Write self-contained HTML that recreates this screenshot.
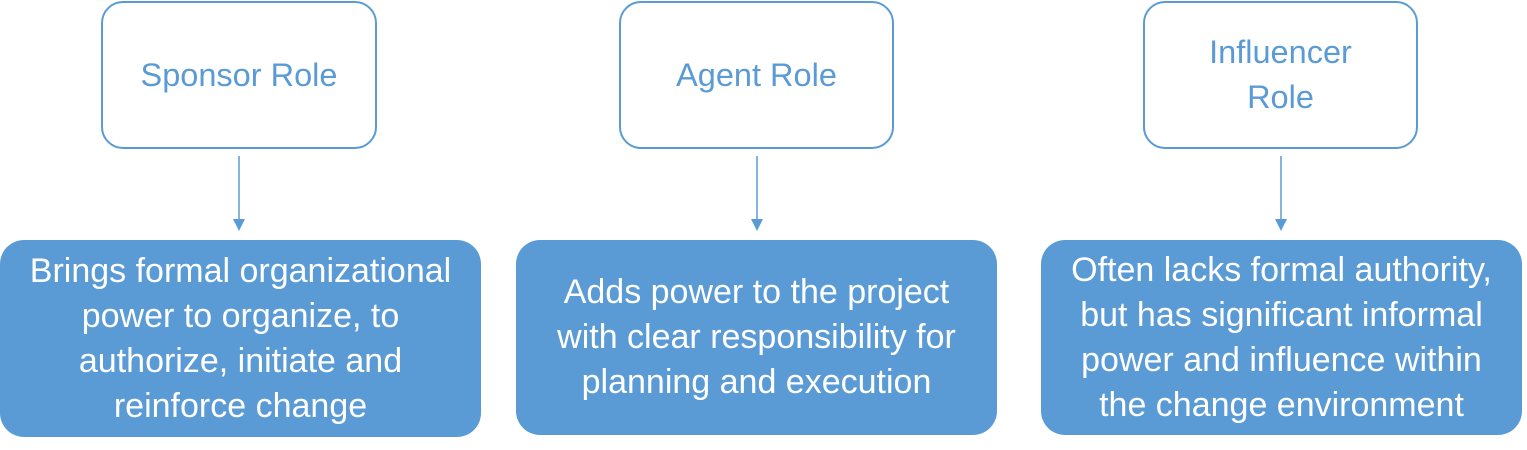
<!DOCTYPE html>
<html><head><style>
body{margin:0;width:1527px;height:450px;background:#fff;position:relative;overflow:hidden;font-family:"Liberation Sans",sans-serif}
.t{position:absolute;box-sizing:border-box;border:2px solid #5b9bd5;border-radius:22px;background:#fff;color:#5b9bd5;font-size:32.5px;display:flex;align-items:center;justify-content:center;text-align:center;line-height:45px}
.b{position:absolute;box-sizing:border-box;border-radius:24px;background:#5b9bd5;color:#fff;font-size:34px;display:flex;align-items:center;justify-content:center;text-align:center;line-height:45px;white-space:nowrap}
</style></head><body>
<div class="t" style="left:101px;top:1px;width:276px;height:148px">Sponsor Role</div>
<div class="t" style="left:619px;top:1px;width:275px;height:148px">Agent Role</div>
<div class="t" style="left:1143px;top:1px;width:275px;height:148px">Influencer<br>Role</div>
<svg style="position:absolute;left:0;top:0" width="1527" height="450">
<g stroke="#5b9bd5" stroke-width="1.5"><line x1="239" y1="156" x2="239" y2="220"/><line x1="757" y1="156" x2="757" y2="220"/><line x1="1281" y1="156" x2="1281" y2="220"/></g>
<g fill="#5b9bd5"><polygon points="233,219 245,219 239,231"/><polygon points="751,219 763,219 757,231"/><polygon points="1275,219 1287,219 1281,231"/></g>
</svg>
<div class="b" style="left:0;top:240px;width:481px;height:197px">Brings formal organizational<br>power to organize, to<br>authorize, initiate and<br>reinforce change</div>
<div class="b" style="left:516px;top:240px;width:481px;height:195px">Adds power to the project<br>with clear responsibility for<br>planning and execution</div>
<div class="b" style="left:1041px;top:240px;width:481px;height:195px">Often lacks formal authority,<br>but has significant informal<br>power and influence within<br>the change environment</div>
</body></html>
